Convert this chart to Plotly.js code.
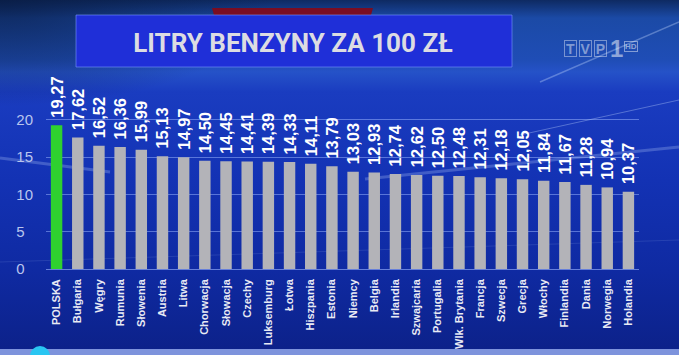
<!DOCTYPE html>
<html>
<head>
<meta charset="utf-8">
<script src="https://cdn.plot.ly/plotly-3.0.1.min.js"></script>
<style>
  html, body { margin: 0; padding: 0; }
  #chart {
    width: 679px; height: 355px;
    background:
      radial-gradient(ellipse 40% 30% at 0% 0%, rgba(8,25,60,0.7) 0%, rgba(8,25,60,0) 100%),
      linear-gradient(180deg, #0e2a62 0px, #1b4aa6 18px, #1f4db6 60px, #2552c8 72px, #1a3cc0 92px, #1332b4 180px, #0f2aa2 270px, #0c2188 355px);
  }
</style>
</head>
<body>
<div id="chart"></div>
<script>
// ---- data ----
const countries = ["POLSKA","Bułgaria","Węgry","Rumunia","Słowenia","Austria","Litwa","Chorwacja","Słowacja","Czechy","Luksemburg","Łotwa","Hiszpania","Estonia","Niemcy","Belgia","Irlandia","Szwajcaria","Portugalia","Wlk. Brytania","Francja","Szwecja","Grecja","Włochy","Finlandia","Dania","Norwegia","Holandia"];
const litres = [19.27,17.62,16.52,16.36,15.99,15.13,14.97,14.50,14.45,14.41,14.39,14.33,14.11,13.79,13.03,12.93,12.74,12.62,12.50,12.48,12.31,12.18,12.05,11.84,11.67,11.28,10.94,10.37];
const yTickVals = [0,5,10,15,20];
const yTickText = ["0\u2007","5\u2007","10","15","20"];
const chartTitle = "LITRY BENZYNY ZA 100 ZŁ";
const logoLetters = ["T","V","P"];

// ---- layout helpers (pixel -> paper) ----
const M = {l:46, r:40, t:90, b:86};
const PW = 679 - M.l - M.r, PH = 355 - M.t - M.b;
const X = px => (px - M.l) / PW;
const Y = py => 1 - (py - M.t) / PH;

const barColors = countries.map(c => c === "POLSKA" ? "#2fd12f" : "#b3b3b8");

const trace = {
  type: "bar",
  x: countries,
  y: litres,
  marker: {color: barColors, line: {width: 0}},
  texttemplate: "\u00A0%{y:.2f}",
  textposition: "outside",
  textangle: -90,
  constraintext: "none",
  cliponaxis: false,
  textfont: {family: "Arial, Liberation Sans, sans-serif", size: 16.5, color: "#ffffff", weight: "bold"},
  hoverinfo: "skip"
};

const streak = (x0,y0,x1,y1,w,op) => ({type:"line", xref:"paper", yref:"paper", x0:X(x0), y0:Y(y0), x1:X(x1), y1:Y(y1), line:{color:"rgba(200,220,255,"+op+")", width:w}, layer:"below"});

const logoAnn = logoLetters.map((ch, i) => ({
  xref:"paper", yref:"paper", x:X(570 + i*15), y:Y(48.5), xanchor:"center", yanchor:"middle",
  text: ch, showarrow:false, width: 11, height: 15,
  font:{family:"Arial, Liberation Sans, sans-serif", size:14, color:"rgba(255,255,255,0.45)", weight:"bold"},
  bordercolor:"rgba(255,255,255,0.4)", borderwidth:1, borderpad:0
}));

const layout = {
  width: 679, height: 355,
  margin: M,
  paper_bgcolor: "rgba(0,0,0,0)",
  plot_bgcolor: "rgba(0,0,0,0)",
  separators: ",.",
  showlegend: false,
  bargap: 0.46,
  title: {
    text: chartTitle,
    xref: "container", yref: "container",
    x: 293/679, y: 1 - 43/355,
    xanchor: "center", yanchor: "middle",
    font: {family: "Roboto, Liberation Sans, sans-serif", size: 26, color: "#dcdce2", weight: "bold"}
  },
  xaxis: {
    type: "category",
    range: [-0.5, countries.length - 0.5],
    tickangle: -90,
    showgrid: false,
    zeroline: false,
    showline: false,
    ticks: "",
    ticklabelstandoff: 7,
    tickfont: {family: "Arial, Liberation Sans, sans-serif", size: 11, color: "#e8eaf4", weight: "bold"},
    fixedrange: true
  },
  yaxis: {
    range: [0, 24],
    tickvals: yTickVals,
    ticktext: yTickText,
    showgrid: true,
    gridcolor: "rgba(160,185,255,0.5)",
    gridwidth: 1,
    zeroline: true,
    zerolinecolor: "rgba(160,185,255,0.6)",
    zerolinewidth: 1,
    showline: false,
    ticks: "",
    ticklabelstandoff: 12,
    tickfont: {family: "Arial, Liberation Sans, sans-serif", size: 15, color: "#b9c5ee"},
    fixedrange: true
  },
  shapes: [
    // background light streaks
    streak(0,158,110,172,3,0.25),
    streak(365,179,679,147,3,0.25),
    streak(540,82,679,22,1.5,0.35),
    streak(520,135,679,100,1,0.35),
    streak(0,262,679,240,1,0.12),
    // red band above title
    {type:"path", xref:"paper", yref:"paper",
     path:"M"+X(212)+","+Y(8)+" L"+X(373)+","+Y(8)+" L"+X(371)+","+Y(15)+" L"+X(214)+","+Y(15)+" Z",
     fillcolor:"#7a0d22", line:{width:0}, layer:"below"},
    // title box
    {type:"rect", xref:"paper", yref:"paper", x0:X(76), x1:X(512), y0:Y(67), y1:Y(15),
     fillcolor:"#1f2fd8", line:{color:"rgba(120,150,255,0.6)", width:1}, layer:"below"},
    // bottom bar
    {type:"rect", xref:"paper", yref:"paper", x0:X(0), x1:X(679), y0:Y(356), y1:Y(349),
     fillcolor:"#7d93dc", line:{width:0}, layer:"below"},
    {type:"circle", xref:"paper", yref:"paper", x0:X(30), x1:X(50), y0:Y(366), y1:Y(346),
     fillcolor:"#29c6f2", line:{width:0}, layer:"above"}
  ],
  annotations: logoAnn.concat([
    {xref:"paper", yref:"paper", x:X(616), y:Y(48.5), xanchor:"center", yanchor:"middle", text:"1", showarrow:false,
     font:{family:"Arial, Liberation Sans, sans-serif", size:24, color:"rgba(255,255,255,0.5)", weight:"bold"}},
    {xref:"paper", yref:"paper", x:X(631), y:Y(46), xanchor:"center", yanchor:"middle", text:"HD", showarrow:false,
     font:{family:"Arial, Liberation Sans, sans-serif", size:8, color:"rgba(255,255,255,0.5)", weight:"bold"},
     bordercolor:"rgba(255,255,255,0.45)", borderwidth:1, borderpad:0}
  ])
};

Plotly.newPlot("chart", [trace], layout, {displayModeBar: false, staticPlot: true});
</script>
</body>
</html>
